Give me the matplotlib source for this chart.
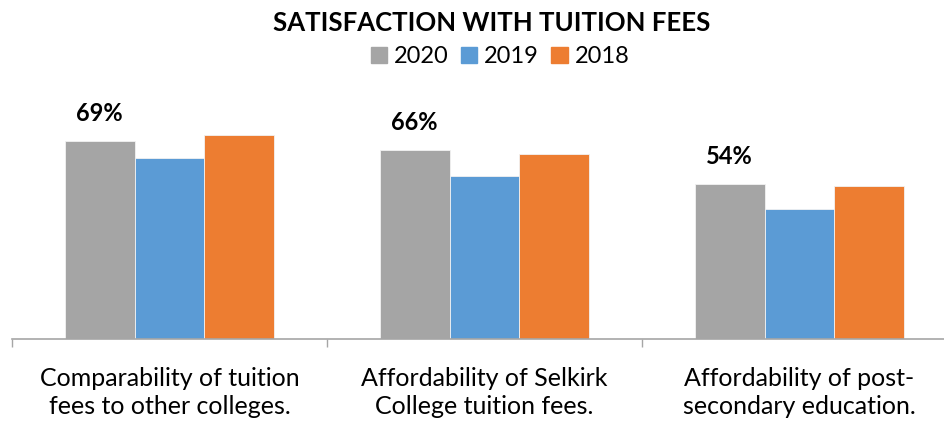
import numpy as np
import matplotlib
matplotlib.use("Agg")
import matplotlib.pyplot as plt
from matplotlib.patches import Patch

plt.rcParams['font.family'] = ['Lato', 'DejaVu Sans']

# data
categories = ["Comparability of tuition\nfees to other colleges.",
              "Affordability of Selkirk\nCollege tuition fees.",
              "Affordability of post-\nsecondary education."]
years = ["2020", "2019", "2018"]
vals_2020 = [69, 66, 54]
vals_2019 = [63.3, 56.8, 45.3]
vals_2018 = [71.1, 64.7, 53.4]
labels_2020 = ["69%", "66%", "54%"]

colors = ["#A5A5A5", "#5B9BD5", "#ED7D31"]

fig = plt.figure(figsize=(9.45, 4.23), dpi=100)
# axes: left edge at x=12px, baseline at y=339px, one category = 315px
ax = fig.add_axes([12 / 945, 84 / 423, 945 / 945, 229 / 423])

x = np.arange(len(categories))
w = 0.222
series = [vals_2020, vals_2019, vals_2018]
for i, (vals, c) in enumerate(zip(series, colors)):
    ax.bar(x + (i - 1) * w, vals, width=w, color=c, edgecolor="#F2F2F2",
           linewidth=0.6, label=years[i])

# value labels only on the 2020 bars
for xi, v, lab in zip(x, vals_2020, labels_2020):
    ax.annotate(lab, (xi - w, v), xytext=(0, 20), textcoords="offset points",
                ha="center", va="center", fontsize=17, fontweight="bold")

ax.set_xlim(-0.5, 2.5)
ax.set_ylim(0, 80)
ax.set_yticks([])
for s in ["top", "right", "left"]:
    ax.spines[s].set_visible(False)
ax.spines["bottom"].set_color("#A6A6A6")
ax.spines["bottom"].set_linewidth(1.2)

ax.set_xticks([-0.5, 0.5, 1.5, 2.5])
ax.set_xticklabels([])
ax.tick_params(axis="x", length=6, color="#A6A6A6", width=1)
ax.set_xticks(x, minor=True)
ax.set_xticklabels(categories, minor=True, fontsize=18, linespacing=1.3)
ax.tick_params(axis="x", which="minor", length=0, pad=20)

fig.text(492 / 945, 0.946, "SATISFACTION WITH TUITION FEES", ha="center",
         va="center", fontsize=18.5, fontweight="bold")

handles = [Patch(color=c, label=y) for c, y in zip(colors, years)]
fig.legend(handles=handles, loc="center", bbox_to_anchor=(500 / 945, 0.866),
           ncol=3, frameon=False, fontsize=17, handlelength=0.7,
           handleheight=0.7, handletextpad=0.3, columnspacing=0.5)

fig.savefig("out.png", dpi=100)
